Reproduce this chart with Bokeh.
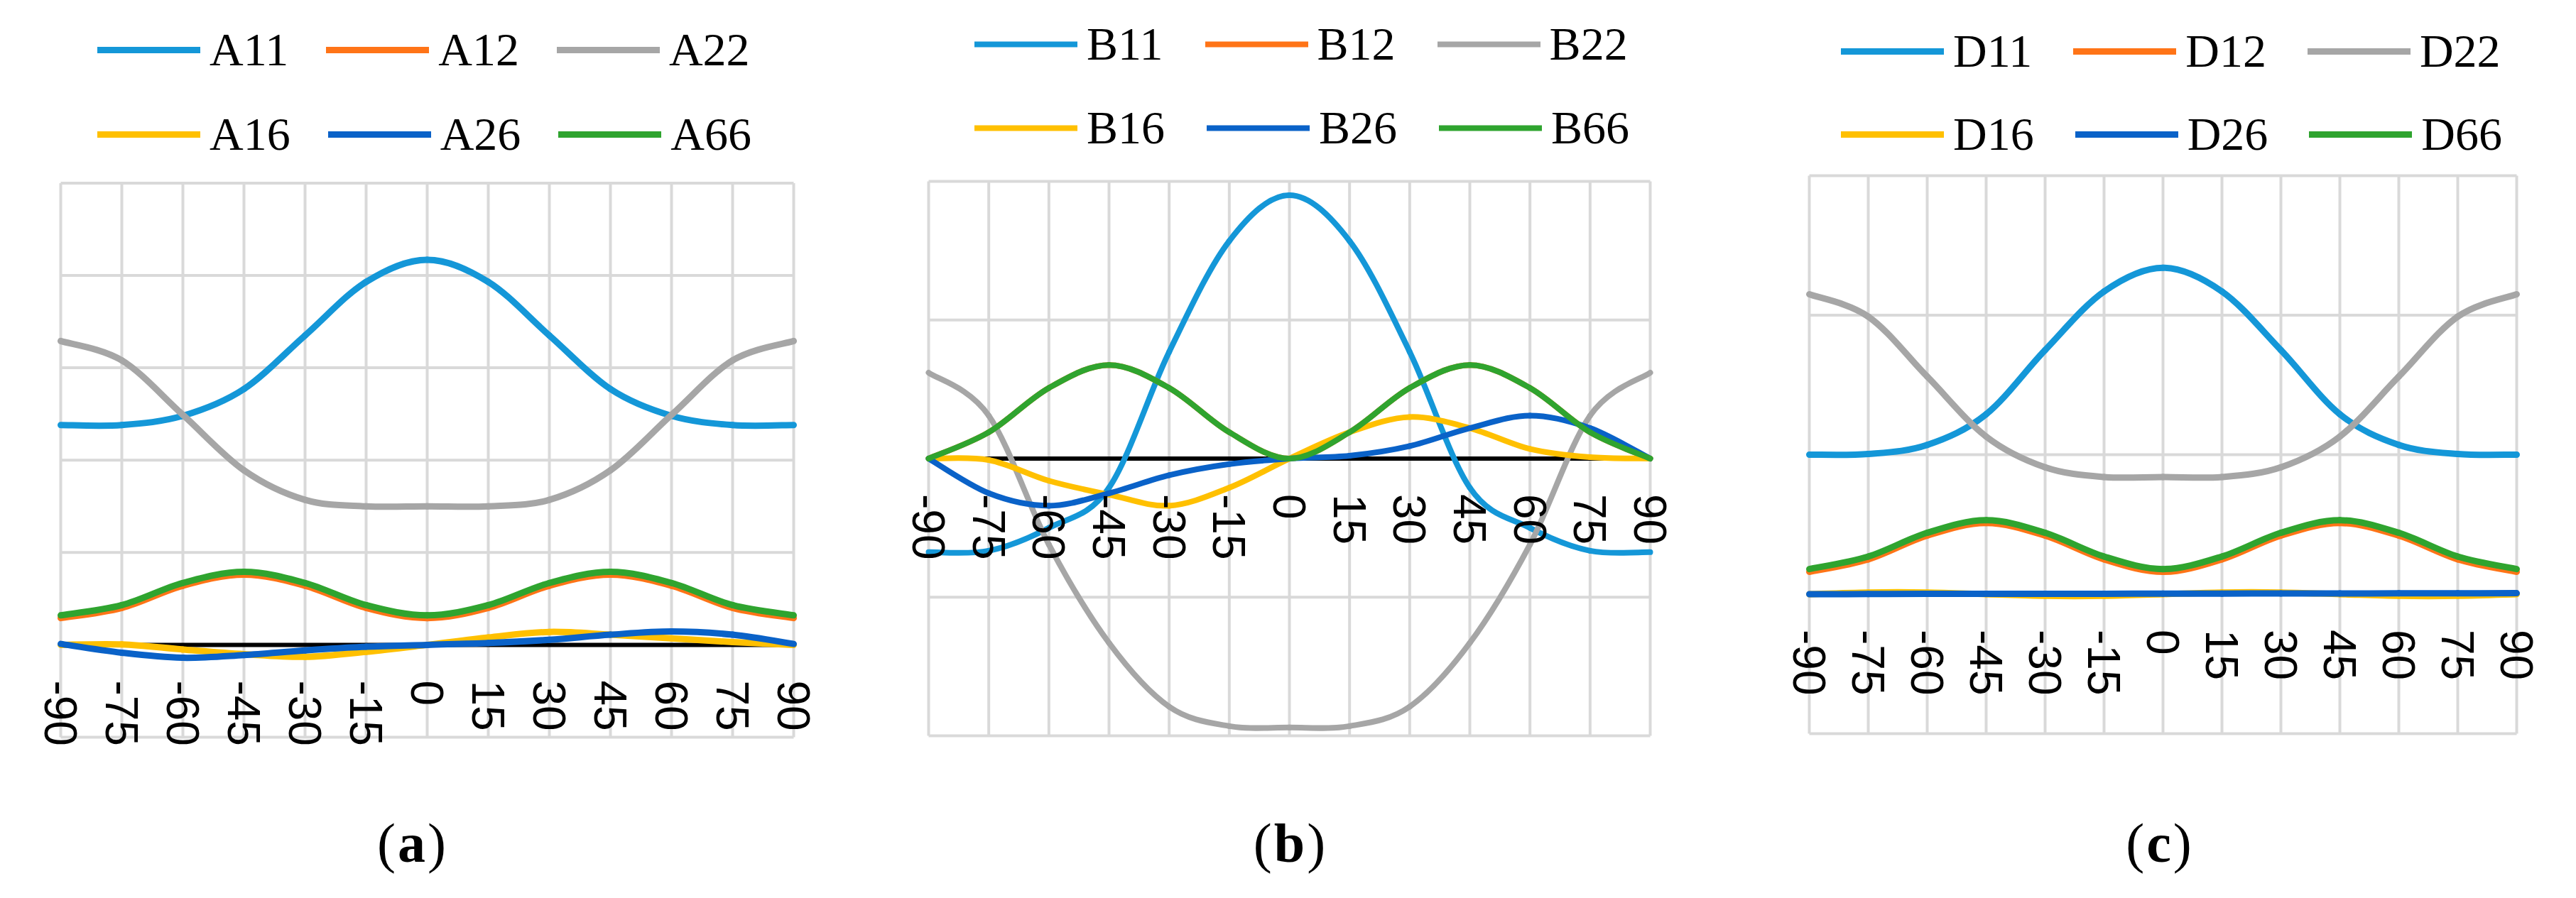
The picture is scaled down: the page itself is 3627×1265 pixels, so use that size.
import math
from bokeh.plotting import figure
from bokeh.models import (FixedTicker, Range1d, Legend, LegendItem, Label,
                          ColumnDataSource)
from bokeh.layouts import row
from bokeh.embed import file_html
from bokeh.resources import INLINE

# ---------------- data (13 categories) ----------------
angles = [-90, -75, -60, -45, -30, -15, 0, 15, 30, 45, 60, 75, 90]
tick_labels = ["-90", "-75", "-60", "-45", "-30", "-15", "0", "15", "30", "45", "60", "75", "90"]

A11 = [2.38, 2.38, 2.48, 2.77, 3.35, 3.93, 4.17, 3.93, 3.35, 2.77, 2.48, 2.38, 2.38]
A12 = [0.29, 0.40, 0.64, 0.76, 0.64, 0.40, 0.29, 0.40, 0.64, 0.76, 0.64, 0.40, 0.29]
A22 = [3.29, 3.08, 2.49, 1.89, 1.57, 1.50, 1.50, 1.50, 1.57, 1.89, 2.49, 3.08, 3.29]
A16 = [0.0, 0.005, -0.05, -0.10, -0.13, -0.075, 0.0, 0.08, 0.14, 0.11, 0.07, 0.03, 0.0]
A26 = [0.01, -0.085, -0.14, -0.11, -0.06, -0.02, 0.0, 0.02, 0.055, 0.11, 0.145, 0.11, 0.01]
A66 = [0.32, 0.43, 0.67, 0.79, 0.67, 0.43, 0.32, 0.43, 0.67, 0.79, 0.67, 0.43, 0.32]

B11 = [-0.675, -0.665, -0.50, -0.21, 0.77, 1.57, 1.90, 1.57, 0.77, -0.21, -0.50, -0.665, -0.675]
B12 = [0.0, 0.19, 0.51, 0.675, 0.51, 0.19, 0.0, 0.19, 0.51, 0.675, 0.51, 0.19, 0.0]
B22 = [0.62, 0.31, -0.62, -1.33, -1.79, -1.93, -1.94, -1.93, -1.79, -1.33, -0.62, 0.31, 0.62]
B16 = [0.0, -0.01, -0.16, -0.26, -0.34, -0.21, 0.0, 0.19, 0.30, 0.22, 0.07, 0.01, 0.0]
B26 = [0.0, -0.25, -0.34, -0.25, -0.12, -0.04, 0.0, 0.02, 0.09, 0.22, 0.31, 0.22, 0.0]
B66 = [0.0, 0.19, 0.51, 0.675, 0.51, 0.19, 0.0, 0.19, 0.51, 0.675, 0.51, 0.19, 0.0]

D11 = [1.00, 1.005, 1.07, 1.29, 1.75, 2.17, 2.34, 2.17, 1.75, 1.29, 1.07, 1.005, 1.00]
D12 = [0.16, 0.25, 0.42, 0.51, 0.42, 0.25, 0.16, 0.25, 0.42, 0.51, 0.42, 0.25, 0.16]
D22 = [2.15, 1.99, 1.56, 1.13, 0.91, 0.84, 0.84, 0.84, 0.91, 1.13, 1.56, 1.99, 2.15]
D16 = [0.0, 0.012, 0.012, 0.0, -0.012, -0.012, 0.0, 0.012, 0.012, 0.0, -0.012, -0.012, 0.0]
D26 = [0.0, 0.001, 0.002, 0.002, 0.003, 0.003, 0.004, 0.004, 0.005, 0.005, 0.006, 0.006, 0.007]
D66 = [0.18, 0.27, 0.44, 0.53, 0.44, 0.27, 0.18, 0.27, 0.44, 0.53, 0.44, 0.27, 0.18]

suffixes = ["11", "12", "22", "16", "26", "66"]
colors = ["#1497D8", "#FF7417", "#A6A6A6", "#FFC000", "#0A62C8", "#2FA42F"]

panel_series = [
    ("A", [A11, A12, A22, A16, A26, A66], [-1, 0, 1, 2, 3, 4, 5]),
    ("B", [B11, B12, B22, B16, B26, B66], [-2, -1, 0, 1, 2]),
    ("D", [D11, D12, D22, D16, D26, D66], [-1, 0, 1, 2, 3]),
]
caption_letters = ["a", "b", "c"]

# ---------------- layout (page pixels) ----------------
H = 1249
PAGE_TOP = 8
# fig_left, fig_width, plot L, R, T, B
layout_px = [
    (8, 1212, 93, 1125, 265.4, 1046),
    (1220, 1220, 1315, 2331, 263, 1044),
    (2440, 1179, 2555, 3551, 255, 1041),
]
legend_px = [  # legend line start x, row1 center y, row2 center y, item spacing
    (145, 78, 197, 53),
    (1380, 70, 188, 59),
    (2600, 80, 197, 58),
]
caption_px = [(587, 1195), (1823, 1195), (3047, 1195)]
CAP_SIZE = 78
LETTER_ADV = {"a": 0.5, "b": 0.556, "c": 0.444}
PAREN_ADV = 0.333
GAP = 3
LINE_W = [9, 8, 9]
GRID = "#D9D9D9"
ITEM_H = 80


def smooth_segments(xs, ys):
    """Bezier control points (Excel-like smoothed line) for each data segment."""
    n = len(xs)
    d = {k: [] for k in ("x0", "y0", "x1", "y1", "cx0", "cy0", "cx1", "cy1")}
    for i in range(n - 1):
        xp, yp = (xs[i - 1], ys[i - 1]) if i > 0 else (xs[i], ys[i])
        xn, yn = (xs[i + 2], ys[i + 2]) if i + 2 < n else (xs[i + 1], ys[i + 1])
        d["x0"].append(xs[i]); d["y0"].append(ys[i])
        d["x1"].append(xs[i + 1]); d["y1"].append(ys[i + 1])
        d["cx0"].append(xs[i] + (xs[i + 1] - xp) / 6.0)
        d["cy0"].append(ys[i] + (ys[i + 1] - yp) / 6.0)
        d["cx1"].append(xs[i + 1] - (xn - xs[i]) / 6.0)
        d["cy1"].append(ys[i + 1] - (yn - ys[i]) / 6.0)
    return d


def make_panel(idx):
    prefix, series, yticks = panel_series[idx]
    fl, fw, L, R, T, B = layout_px[idx]
    ymin, ymax = yticks[0], yticks[-1]
    xmin, xmax = angles[0], angles[-1]
    xs = (R - L) / (xmax - xmin)
    ys = (B - T) / (ymax - ymin)
    x_start = xmin - (L - fl) / xs
    x_end = xmax + (fl + fw - R) / xs
    y_end = ymax + (T - PAGE_TOP) / ys
    y_start = ymin - (PAGE_TOP + H - B) / ys

    p = figure(width=fw, height=H, x_range=Range1d(x_start, x_end),
               y_range=Range1d(y_start, y_end), output_backend="svg",
               toolbar_location=None, min_border_left=0, min_border_right=0,
               min_border_top=0, min_border_bottom=0)
    p.background_fill_color = "white"
    p.border_fill_color = "white"
    p.outline_line_color = None
    p.yaxis.visible = False
    p.xgrid.visible = False
    p.ygrid.visible = False

    # plot-area grid (also forms the border of the plot area)
    p.segment(x0=angles, y0=[ymin] * len(angles), x1=angles, y1=[ymax] * len(angles),
              line_color=GRID, line_width=4)
    p.segment(x0=[xmin] * len(yticks), y0=yticks, x1=[xmax] * len(yticks), y1=yticks,
              line_color=GRID, line_width=4)
    # horizontal (category) axis line at zero
    p.segment(x0=[xmin], y0=[0], x1=[xmax], y1=[0], line_color="black", line_width=6)

    ax = p.xaxis[0]
    ax.fixed_location = 0
    ax.ticker = FixedTicker(ticks=angles)
    ax.major_label_overrides = {a: t for a, t in zip(angles, tick_labels)}
    ax.major_label_orientation = "vertical"
    ax.major_label_text_font = "Liberation Sans"
    ax.major_label_text_font_size = "64px"
    ax.major_label_text_color = "black"
    ax.major_label_standoff = 50
    ax.major_tick_in = 0
    ax.major_tick_out = 0
    ax.minor_tick_in = 0
    ax.minor_tick_out = 0
    ax.axis_line_color = None

    items = []
    for suf, vals, col in zip(suffixes, series, colors):
        src = ColumnDataSource(smooth_segments(angles, vals))
        r = p.bezier(x0="x0", y0="y0", x1="x1", y1="y1", cx0="cx0", cy0="cy0",
                     cx1="cx1", cy1="cy1", source=src, line_color=col,
                     line_width=LINE_W[idx], line_cap="round")
        items.append(LegendItem(label=prefix + suf, renderers=[r]))

    lx, r1, r2, sp = legend_px[idx]
    fig_bottom = PAGE_TOP + H
    for its, rc in ((items[:3], r1), (items[3:], r2)):
        leg = Legend(items=its, location=(lx - fl, fig_bottom - (rc + ITEM_H / 2)),
                     orientation="horizontal", glyph_width=145, glyph_height=ITEM_H,
                     label_height=ITEM_H, label_standoff=13, spacing=sp, padding=0,
                     margin=0, border_line_color=None, background_fill_alpha=0,
                     label_text_font="Liberation Serif",
                     label_text_font_size="66px", label_text_color="black")
        p.add_layout(leg)

    # caption "(a)" with a bold letter: three pieces, left aligned, small gaps
    letter = caption_letters[idx]
    cx, cy = caption_px[idx]
    w_par = PAREN_ADV * CAP_SIZE
    w_let = LETTER_ADV[letter] * CAP_SIZE
    total = 2 * w_par + w_let + 2 * GAP
    x_first = cx - fl - total / 2
    common = dict(y=fig_bottom - cy, x_units="screen", y_units="screen",
                  text_font="Liberation Serif", text_font_size=f"{CAP_SIZE}px",
                  text_color="black", text_baseline="middle", text_align="left")
    p.add_layout(Label(x=x_first, text="(", **common))
    p.add_layout(Label(x=x_first + w_par + GAP, text=letter,
                       text_font_style="bold", **common))
    p.add_layout(Label(x=x_first + w_par + GAP + w_let + GAP, text=")", **common))
    return p


figs = [make_panel(i) for i in range(3)]
layout = row(*figs)
open("out.html", "w").write(file_html(layout, INLINE))
